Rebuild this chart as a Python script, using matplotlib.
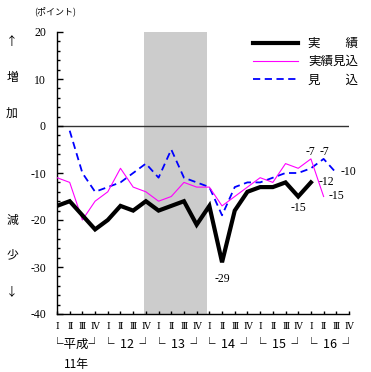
import matplotlib
matplotlib.use('Agg')
import matplotlib.pyplot as plt
from matplotlib.ticker import MultipleLocator

plt.rcParams['font.family'] = ['Noto Sans CJK JP', 'DejaVu Sans']
plt.rcParams['axes.unicode_minus'] = False

# quarters 平成11 I .. 16 IV
quarters = ['Ⅰ', 'Ⅱ', 'Ⅲ', 'Ⅳ'] * 6
years = ['└平成┘', '└  12  ┘', '└  13  ┘', '└  14  ┘', '└  15  ┘', '└  16  ┘']

# 実績 (idx 0..20)
actual = [-17, -16, -19, -22, -20, -17, -18, -16, -18, -17, -16,
          -21, -17, -29, -18, -14, -13, -13, -12, -15, -12]
# 実績見込 (idx 0..21)
act_est = [-11, -12, -20, -16, -14, -9, -13, -14, -16, -15, -12,
           -13, -13, -17, -15, -13, -11, -12, -8, -9, -7, -15]
# 見込 (idx 1..22)
forecast = [-1, -10, -14, -13, -12, -10, -8, -11, -5, -11, -12,
            -13, -19, -13, -12, -12, -11, -10, -10, -9, -7, -10]
forecast_start = 1

shade = (6.85, 11.8)

fig = plt.figure(figsize=(3.71, 3.72), dpi=100)
ax = fig.add_axes([57/371, 1-314/372, 292/371, 282/372])

ax.axvspan(shade[0], shade[1], color='#cccccc', lw=0, zorder=0)
ax.axhline(0, color='#333333', lw=1.0, zorder=1)

x_act = list(range(len(actual)))
x_est = list(range(len(act_est)))
x_fc = list(range(forecast_start, forecast_start + len(forecast)))

ax.plot(x_act, actual, color='black', lw=3.0, solid_joinstyle='miter', label='実　　績', zorder=4)
ax.plot(x_est, act_est, color='#ff00ff', lw=0.8, label='実績見込', zorder=3)
ax.plot(x_fc, forecast, color='#0000ff', lw=1.3, dashes=(4, 2.5), label='見　　込', zorder=2)

ax.set_xlim(0, 23)
ax.set_ylim(-40, 20)
for s in ['top', 'right']:
    ax.spines[s].set_visible(False)
ax.spines['left'].set_linewidth(1.0)
ax.spines['bottom'].set_linewidth(1.0)

ax.yaxis.set_major_locator(MultipleLocator(10))
ax.yaxis.set_minor_locator(MultipleLocator(2))
ax.tick_params(axis='y', which='major', direction='in', length=4, width=1, pad=8,
               labelsize=8.5, labelfontfamily='Liberation Serif')
ax.tick_params(axis='y', which='minor', direction='in', length=2, width=1)
ax.set_xticks(range(len(quarters)))
ax.set_xticklabels(quarters)
ax.tick_params(axis='x', direction='in', length=2, width=1, pad=6, labelsize=6.5,
               labelfontfamily='DejaVu Serif')

# year groups under the quarters
for g, lab in enumerate(years):
    ax.text(4*g + 1.5, -46.4, lab, ha='center', va='center', fontsize=9,
            family=['Noto Sans CJK JP'], clip_on=False)
ax.text(1.5, -50.7, '11年', ha='center', va='center', fontsize=8.5,
        family=['Noto Sans CJK JP'], clip_on=False)

# value labels
lab_font = dict(fontsize=8.5, family='Liberation Serif')
ax.text(13, -31.3, '-29', ha='center', va='top', **lab_font)
ax.text(19, -16.2, '-15', ha='center', va='top', **lab_font)
ax.text(20.6, -12, '-12', ha='left', va='center', **lab_font)
ax.text(21.4, -14.8, '-15', ha='left', va='center', **lab_font)
ax.text(22.3, -9.8, '-10', ha='left', va='center', **lab_font)
ax.text(20, -5.6, '-7', ha='center', va='center', **lab_font)
ax.text(21.1, -5.6, '-7', ha='center', va='center', **lab_font)

ax.legend(loc='upper left', bbox_to_anchor=(253/371, 1-37/372), bbox_transform=fig.transFigure,
          frameon=False, fontsize=9, handlelength=3.6, handletextpad=0.8,
          labelspacing=0.42, borderpad=0, borderaxespad=0)

# side labels
for ch, yy in [('↑', 42), ('増', 78), ('加', 113), ('減', 220), ('少', 255), ('↓', 292)]:
    fig.text(12/371, 1-yy/372, ch, ha='center', va='center', fontsize=8.5)
fig.text(55/371, 1-11/372, '(ポイント)', ha='center', va='center', fontsize=6.5)

fig.savefig('out.png', dpi=100)
